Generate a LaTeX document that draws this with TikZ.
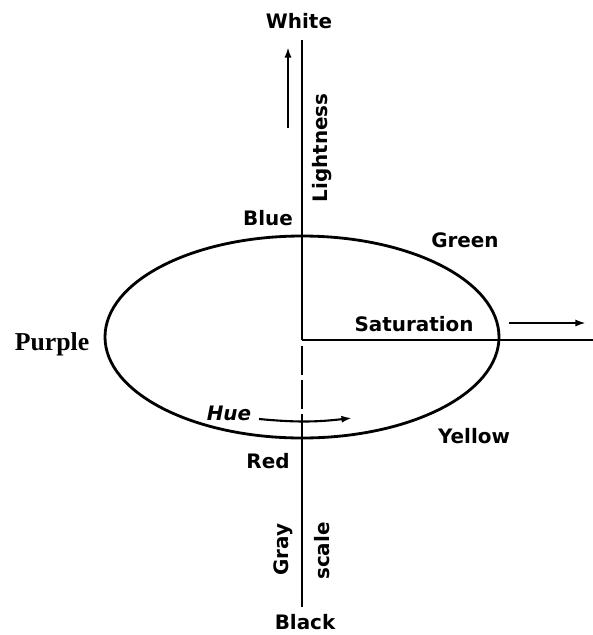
\documentclass[tikz,border=0pt]{standalone}
\usepackage{fontspec}
\setmainfont{Liberation Serif}
\setsansfont{DejaVu Sans}
\usepackage{tikz}
\usetikzlibrary{arrows.meta}
\definecolor{inkblack}{HTML}{000000}

\begin{document}
\begin{tikzpicture}[
  x=0.03cm,y=-0.03cm,
  >={Latex[length=9pt,width=6pt]},
  axis/.style={line width=2.4pt,inkblack},
  ring/.style={line width=2.4pt,inkblack},
  grayaxis/.style={line width=2.4pt,inkblack,dash pattern=on 25pt off 4pt},
  pointer/.style={line width=1.8pt,inkblack,->},
  lbl/.style={font=\sffamily\bfseries\fontsize{17}{20}\selectfont,inner sep=0pt},
  vlbl/.style={lbl,rotate=90}
]
  \useasboundingbox (0,0) rectangle (593,635);

  % axes and colour ring
  \coordinate (top) at (302,40);
  \coordinate (ctr) at (302,340);
  \coordinate (dash0) at (302,346);
  \coordinate (ring0) at (302,438);
  \coordinate (bot) at (302,607);
  \coordinate (sat1) at (593,340);
  \draw[axis] (top) -- (ctr);
  \draw[axis] (ctr) -- (sat1);
  \draw[grayaxis] (dash0) -- (ring0);
  \draw[axis] (ring0) -- (bot);
  \draw[ring] (302,337) ellipse [x radius=197,y radius=101];

  % labels
  \node[lbl] (white) at (299,21) {White};
  \node[vlbl] (light) at (322,148) {Lightness};
  \node[lbl] (blue) at (268,218) {Blue};
  \node[lbl] (green) at (465,240) {Green};
  \node[lbl] (sat) at (414,324) {Saturation};
  \node[font=\rmfamily\bfseries\fontsize{22}{26}\selectfont,inner sep=0pt] (purple) at (52,344) {Purple};
  \node[lbl,font=\sffamily\bfseries\itshape\fontsize{17}{20}\selectfont] (hue) at (229,413) {Hue};
  \node[lbl] (red) at (268,461) {Red};
  \node[lbl] (yellow) at (474,436) {Yellow};
  \node[vlbl] (gray) at (283,550) {Gray};
  \node[vlbl] (scale) at (322,551) {scale};
  \node[lbl] (black) at (305,622) {Black};

  % direction arrows
  \coordinate (lt0) at (288,128);
  \coordinate (lt1) at (288,47);
  \coordinate (st0) at (509,323);
  \coordinate (st1) at (586,323);
  \coordinate (hu0) at (259,419);
  \coordinate (hu1) at (352,418);
  \draw[pointer] (lt0) -- (lt1);
  \draw[pointer] (st0) -- (st1);
  \draw[pointer] (hu0) to[bend right=6] (hu1);
\end{tikzpicture}
\end{document}
